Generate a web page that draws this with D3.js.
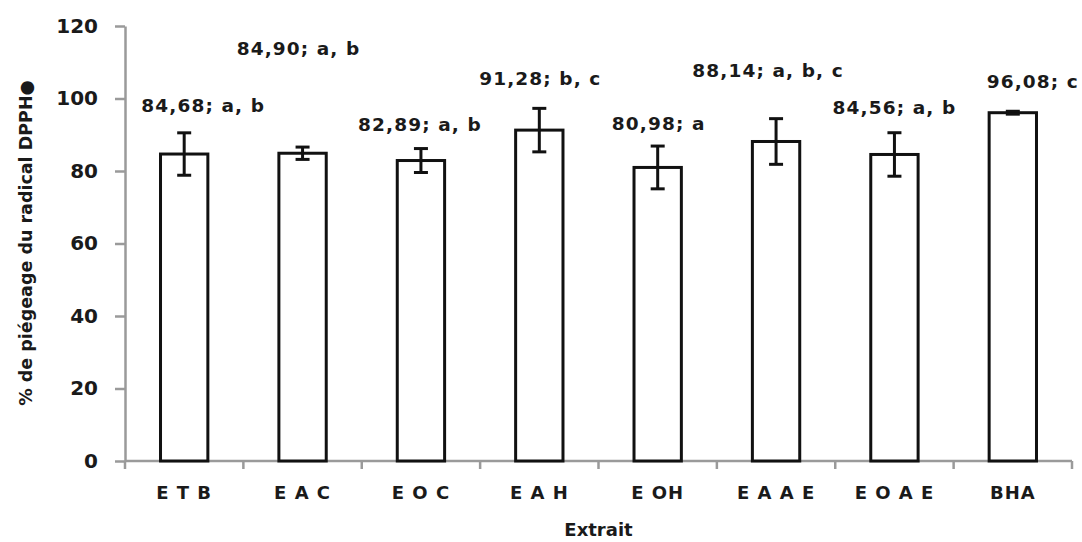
<!DOCTYPE html>
<html>
<head>
<meta charset="utf-8">
<style>
  body { margin: 0; background: #fff; }
  text { font-family: 'DejaVu Sans', sans-serif; font-weight: bold; fill: #1a1a1a; }
</style>
</head>
<body>
<div id="chart"></div>
<script src="https://cdn.jsdelivr.net/npm/d3@7"></script>
<script>
var width = 1082, height = 542;

// data
var extraits = ['E T B', 'E A C', 'E O C', 'E A H', 'E OH', 'E A A E', 'E O A E', 'BHA'];
var piegeage = [84.68, 84.90, 82.89, 91.28, 80.98, 88.14, 84.56, 96.08];
var ecartType = [5.85, 1.7, 3.3, 6.0, 5.9, 6.3, 6.0, 0.4];
var groupes = ['a, b', 'a, b', 'a, b', 'b, c', 'a', 'a, b, c', 'a, b', 'c'];
var yTicks = [0, 20, 40, 60, 80, 100, 120];
// where the data labels were placed (in % units, moved by hand in the original)
var labelAt = [98.2, 113.7, 92.7, 105.4, 93.0, 107.6, 97.4, 104.6];
var labelShift = [19, -4, -1, 1, 1, -8, 0, 20];

var margin = {left: 125, right: 10, top: 26, bottom: 81};

var svg = d3.select('#chart').append('svg')
    .attr('width', width)
    .attr('height', height);

var x = d3.scaleBand()
    .domain(extraits)
    .range([margin.left, 1072])
    .paddingInner(0)
    .paddingOuter(0);

var y = d3.scaleLinear()
    .domain([0, 120])
    .range([height - margin.bottom, margin.top]);

var axisColor = '#9a9a9a';

// y axis
var yAxis = svg.append('g')
    .attr('transform', 'translate(' + margin.left + ',0)')
    .call(d3.axisLeft(y).tickValues(yTicks).tickSize(10).tickPadding(17).tickSizeOuter(0));
yAxis.select('.domain').attr('stroke', axisColor).attr('stroke-width', 2.5);
yAxis.selectAll('.tick line').attr('stroke', axisColor).attr('stroke-width', 2.5);
yAxis.selectAll('.tick text')
    .style('font-size', '20px')
    .style('font-family', "'DejaVu Sans', sans-serif")
    .style('font-weight', 'bold')
    .attr('fill', '#1a1a1a');

// x axis: ticks between categories
var bounds = extraits.map(function(d){ return x(d); }).concat([x.range()[1]]);
var xg = svg.append('g');
xg.append('line')
    .attr('x1', x.range()[0]).attr('x2', x.range()[1])
    .attr('y1', y(0)).attr('y2', y(0))
    .attr('stroke', axisColor).attr('stroke-width', 2.5);
xg.selectAll('line.tk')
    .data(bounds)
    .enter().append('line')
    .attr('class', 'tk')
    .attr('x1', function(d){ return d; }).attr('x2', function(d){ return d; })
    .attr('y1', y(0)).attr('y2', y(0) + 8)
    .attr('stroke', axisColor).attr('stroke-width', 2.5);
xg.selectAll('text')
    .data(extraits)
    .enter().append('text')
    .attr('x', function(d){ return x(d) + x.bandwidth() / 2; })
    .attr('y', y(0) + 32)
    .attr('dy', '0.35em')
    .attr('text-anchor', 'middle')
    .style('font-size', '18px')
    .style('letter-spacing', '1px')
    .text(function(d){ return d; });

// bars
var barW = x.bandwidth() * 0.4;
svg.selectAll('rect.bar')
    .data(extraits)
    .enter().append('rect')
    .attr('class', 'bar')
    .attr('x', function(d){ return x(d) + x.bandwidth() / 2 - barW / 2; })
    .attr('y', function(d, i){ return y(piegeage[i]); })
    .attr('width', barW)
    .attr('height', function(d, i){ return y(0) - y(piegeage[i]); })
    .attr('fill', '#fff')
    .attr('stroke', '#111')
    .attr('stroke-width', 3);

// error bars
var cap = 7;
var eb = svg.selectAll('g.err')
    .data(extraits)
    .enter().append('g')
    .attr('class', 'err')
    .attr('stroke', '#111')
    .attr('stroke-width', 3);
eb.append('line')
    .attr('x1', function(d){ return x(d) + x.bandwidth() / 2; })
    .attr('x2', function(d){ return x(d) + x.bandwidth() / 2; })
    .attr('y1', function(d, i){ return y(piegeage[i] + ecartType[i]); })
    .attr('y2', function(d, i){ return y(piegeage[i] - ecartType[i]); });
eb.append('line')
    .attr('x1', function(d){ return x(d) + x.bandwidth() / 2 - cap; })
    .attr('x2', function(d){ return x(d) + x.bandwidth() / 2 + cap; })
    .attr('y1', function(d, i){ return y(piegeage[i] + ecartType[i]); })
    .attr('y2', function(d, i){ return y(piegeage[i] + ecartType[i]); });
eb.append('line')
    .attr('x1', function(d){ return x(d) + x.bandwidth() / 2 - cap; })
    .attr('x2', function(d){ return x(d) + x.bandwidth() / 2 + cap; })
    .attr('y1', function(d, i){ return y(piegeage[i] - ecartType[i]); })
    .attr('y2', function(d, i){ return y(piegeage[i] - ecartType[i]); });

// data labels
var fmt = function(v){ return v.toFixed(2).replace('.', ','); };
svg.selectAll('text.lbl')
    .data(extraits)
    .enter().append('text')
    .attr('class', 'lbl')
    .attr('x', function(d, i){ return x(d) + x.bandwidth() / 2 + labelShift[i]; })
    .attr('y', function(d, i){ return y(labelAt[i]); })
    .attr('dy', '0.35em')
    .attr('text-anchor', 'middle')
    .style('font-size', '18.5px')
    .style('letter-spacing', '1.1px')
    .text(function(d, i){ return fmt(piegeage[i]) + '; ' + groupes[i]; });

// axis titles
svg.append('text')
    .attr('x', (x.range()[0] + x.range()[1]) / 2)
    .attr('y', 530)
    .attr('dy', '0.35em')
    .attr('text-anchor', 'middle')
    .style('font-size', '18px')
    .text('Extrait');

svg.append('text')
    .attr('transform', 'translate(26,243) rotate(-90)')
    .attr('dy', '0.35em')
    .attr('text-anchor', 'middle')
    .style('font-size', '17.5px')
    .text('% de piégeage du radical DPPH●');
</script>
</body>
</html>
